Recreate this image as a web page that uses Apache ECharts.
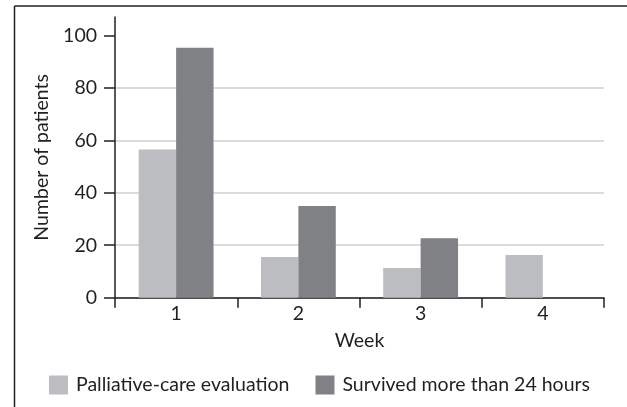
<!DOCTYPE html>
<html><head><meta charset="utf-8">
<script src="https://cdn.jsdelivr.net/npm/echarts@6/dist/echarts.min.js"></script>
<style>html,body{margin:0;padding:0;background:#fff}#c{width:627px;height:407px}</style>
</head><body><div id="c"></div>
<script>
const weeks = ['1', '2', '3', '4'];
const palliativeCare = [56.5, 15.5, 11.3, 16.3];
const survived24h = [95.3, 35, 22.7, null];
const yTicks = [0, 20, 40, 60, 80, 100];
const seriesNames = ['Palliative-care evaluation', 'Survived more than 24 hours'];

const FONT = 'Lato';
const FS = 19.5;
const TXT = '#231f20';
const chart = echarts.init(document.getElementById('c'), null, {renderer: 'canvas'});
chart.setOption({
  animation: false,
  textStyle: {fontFamily: FONT},
  grid: {left: 115, right: 23, top: 17, bottom: 109.3, containLabel: false},
  legend: {
    left: 44, top: 370, itemWidth: 19, itemHeight: 19, itemGap: 26,
    icon: 'rect',
    textStyle: {fontFamily: FONT, fontSize: FS, color: TXT, padding: [0, 0, 0, 3]},
    data: seriesNames
  },
  xAxis: {
    type: 'category', data: weeks, boundaryGap: true,
    name: 'Week', nameLocation: 'middle', nameGap: 33,
    nameTextStyle: {fontFamily: FONT, fontSize: FS, color: TXT},
    axisLine: {lineStyle: {color: TXT, width: 1.5}},
    axisTick: {show: true, inside: false, length: 10, lineStyle: {color: TXT, width: 1.5}},
    axisLabel: {fontFamily: FONT, fontSize: FS, color: TXT, margin: 6}
  },
  yAxis: {
    type: 'value', min: 0, max: 107,
    name: 'Number of patients', nameLocation: 'middle', nameGap: 62, nameRotate: 90,
    nameTextStyle: {fontFamily: FONT, fontSize: FS, color: TXT},
    axisLine: {show: true, lineStyle: {color: TXT, width: 1.5}},
    axisTick: {show: true, length: 11, customValues: yTicks, lineStyle: {color: TXT, width: 1.5}},
    axisLabel: {fontFamily: FONT, fontSize: FS, color: TXT, margin: 18, customValues: yTicks},
    splitLine: {show: true, showMaxLine: false, lineStyle: {color: '#cfcfd0', width: 1.5}}
  },
  series: [
    {name: seriesNames[0], type: 'bar', data: palliativeCare, barWidth: '30.6%', barGap: '0%',
     itemStyle: {color: '#bcbdc0'}},
    {name: seriesNames[1], type: 'bar', data: survived24h, barWidth: '30.6%', barGap: '0%',
     itemStyle: {color: '#808184'}}
  ],
  graphic: [
    {type: 'line', shape: {x1: 14.5, y1: 6, x2: 627, y2: 6}, style: {stroke: '#231f20', lineWidth: 1.5}},
    {type: 'line', shape: {x1: 14.5, y1: 6, x2: 14.5, y2: 407}, style: {stroke: '#231f20', lineWidth: 1.5}}
  ]
});
</script></body></html>
